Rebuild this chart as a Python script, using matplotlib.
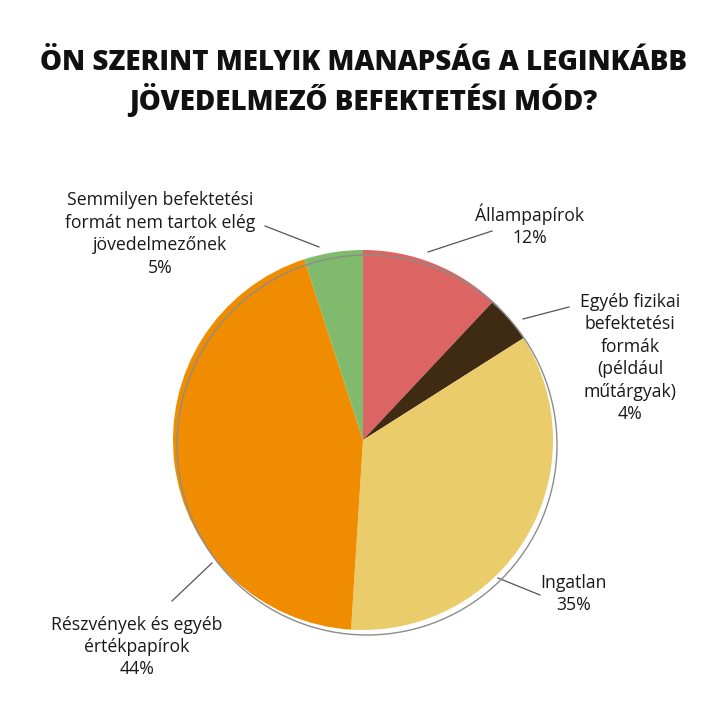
"""Pie chart: most profitable investment form (Hungarian survey)"""
import matplotlib.pyplot as plt
from matplotlib.patches import Circle

plt.rcParams['font.family'] = ['Open Sans', 'DejaVu Sans']

# Data
labels = ["Állampapírok\n12%",
          "Egyéb fizikai\nbefektetési\nformák\n(például\nműtárgyak)\n4%",
          "Ingatlan\n35%",
          "Részvények és egyéb\nértékpapírok\n44%",
          "Semmilyen befektetési\nformát nem tartok elég\njövedelmezőnek\n5%"]
values = [12, 4, 35, 44, 5]
colors = ['#DC6462', '#3F2A14', '#EACC6B', '#F08C00', '#80BA6D']

W, H = 727, 709
fig = plt.figure(figsize=(W / 100, H / 100), dpi=100)
ax = fig.add_axes([0, 0, 1, 1])

cx, cy, r = 363, H - 440, 190

ax.pie(values, colors=colors, startangle=90, counterclock=False,
       center=(cx, cy), radius=r, frame=True,
       wedgeprops=dict(linewidth=0))
ax.set_xlim(0, W)
ax.set_ylim(0, H)
ax.set_aspect('equal')
ax.axis('off')

# thin offset outline over the pie
ax.add_patch(Circle((cx + 4, cy - 5), r, fill=False, edgecolor='#8c8c8c',
                    linewidth=1.0, zorder=5))

# title
fig.text(0.5, 1 - 62 / H, "ÖN SZERINT MELYIK MANAPSÁG A LEGINKÁBB",
         ha='center', va='center', fontsize=20, fontweight='heavy', color='#111111')
fig.text(0.5, 1 - 100 / H, "JÖVEDELMEZŐ BEFEKTETÉSI MÓD?",
         ha='center', va='center', fontsize=20, fontweight='heavy', color='#111111')

# labels (block centre) and leader lines
label_pos = [(530, 225), (630, 358), (574, 594), (137, 647), (160, 234)]
leaders = [((492, 231), (428, 252)),
           ((569, 307), (523, 319)),
           ((498, 578), (540, 595)),
           ((212, 563), (172, 601)),
           ((265, 226), (319, 247))]

for lab, (lx, ly), ((x1, y1), (x2, y2)) in zip(labels, label_pos, leaders):
    ax.text(lx, H - ly, lab, ha='center', va='center', fontsize=12.7,
            color='#1a1a1a', linespacing=1.32)
    ax.plot([x1, x2], [H - y1, H - y2], color='#555555', linewidth=0.9)

fig.savefig('out.png', dpi=100, facecolor='white')
